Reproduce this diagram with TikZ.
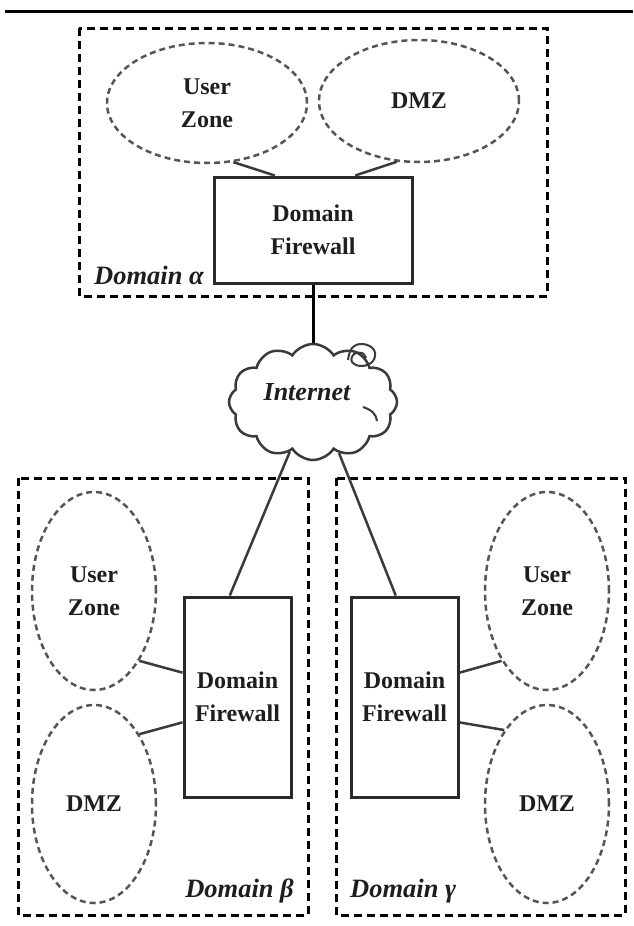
\documentclass[tikz,border=0pt]{standalone}
\usepackage{fontspec}
\setmainfont{Liberation Serif}
\usetikzlibrary{shapes.geometric,shapes.symbols,calc}
\definecolor{zonegray}{HTML}{555555}
\definecolor{fwgray}{HTML}{2A2A2A}
\definecolor{linkgray}{HTML}{3A3A3A}
\definecolor{textgray}{HTML}{1E1E1E}
\newcommand\zonefont{\bfseries\fontsize{24}{33}\selectfont}
\newcommand\labelfont{\bfseries\itshape\fontsize{26.5}{30}\selectfont}
\begin{document}
\begin{tikzpicture}[x=1pt,y=-1pt,
  domainbox/.style={draw=black,line width=3pt,dash pattern=on 8pt off 5pt},
  zone/.style={ellipse,draw=zonegray,line width=2.5pt,dash pattern=on 6pt off 4pt,inner sep=0pt,align=center,font=\zonefont,text=textgray},
  fwbox/.style={rectangle,draw=fwgray,line width=3pt,inner sep=0pt,align=center,font=\zonefont,text=textgray},
  link/.style={draw=linkgray,line width=2.5pt},
  dlabel/.style={font=\labelfont,inner sep=0pt,text=textgray}]
\useasboundingbox (0,0) rectangle (633,926);
% top rule
\draw[line width=3pt] (5,11) -- (633,11);
% domain alpha
\draw[domainbox] (79,28) rectangle (547,296);
\node[zone,minimum width=200pt,minimum height=120pt] (uza) at (207,103) {User\\Zone};
\node[zone,minimum width=200pt,minimum height=122pt] (dmza) at (419,101) {DMZ};
\node[fwbox,minimum width=198pt,minimum height=106pt] (fwa) at (313,230) {Domain\\Firewall};
\node[dlabel,anchor=west] (la) at (94,275) {Domain α};
% internet cloud
\node[cloud,draw=linkgray,line width=2.5pt,cloud puffs=12,cloud puff arc=115,aspect=1.45,minimum width=168pt,minimum height=116pt,inner sep=0pt] (net) at (313,402) {};
\node[font=\bfseries\itshape\fontsize{26}{30}\selectfont,text=textgray,inner sep=0pt] (nettext) at (307,392) {Internet};
\draw[linkgray,line width=2pt] plot[smooth,tension=0.7] coordinates {(348,360) (352,348) (363,344) (374,350) (373,361) (362,366) (352,362) (354,354) (362,353) (366,358)};
\draw[linkgray,line width=2pt] (363,407) .. controls (372,410) and (376,414) .. (377,421);
% domain beta and gamma
\draw[domainbox] (18,478) rectangle (308,915);
\draw[domainbox] (336,478) rectangle (625,915);
\node[zone,minimum width=124pt,minimum height=198pt] (uzb) at (94,591) {User\\Zone};
\node[zone,minimum width=124pt,minimum height=198pt] (dmzb) at (94,804) {DMZ};
\node[fwbox,minimum width=107pt,minimum height=200pt] (fwb) at (237.5,697) {Domain\\Firewall};
\node[zone,minimum width=124pt,minimum height=198pt] (uzc) at (547,591) {User\\Zone};
\node[zone,minimum width=124pt,minimum height=198pt] (dmzc) at (547,804) {DMZ};
\node[fwbox,minimum width=107pt,minimum height=200pt] (fwc) at (404.5,697) {Domain\\Firewall};
\node[dlabel,anchor=east] (lb) at (294,891) {Domain β};
\node[dlabel,anchor=west] (lc) at (350,891) {Domain γ};
% connectors
\draw[link] (uza.-66) -- ($(fwa.north west)!0.31!(fwa.north east)$);
\draw[link] (dmza.-110) -- ($(fwa.north west)!0.71!(fwa.north east)$);
\draw[draw=black,line width=3pt] (fwa.south) -- (fwa.south |- net.north);
\draw[link] (net.-115) -- ($(fwb.north west)!0.43!(fwb.north east)$);
\draw[link] (net.-63) -- ($(fwc.north west)!0.42!(fwc.north east)$);
\draw[link] (uzb.-57) -- ($(fwb.north west)!0.38!(fwb.south west)$);
\draw[link] (dmzb.57) -- ($(fwb.north west)!0.625!(fwb.south west)$);
\draw[link] (uzc.-123) -- ($(fwc.north east)!0.38!(fwc.south east)$);
\draw[link] (dmzc.120) -- ($(fwc.north east)!0.625!(fwc.south east)$);
\end{tikzpicture}
\end{document}
